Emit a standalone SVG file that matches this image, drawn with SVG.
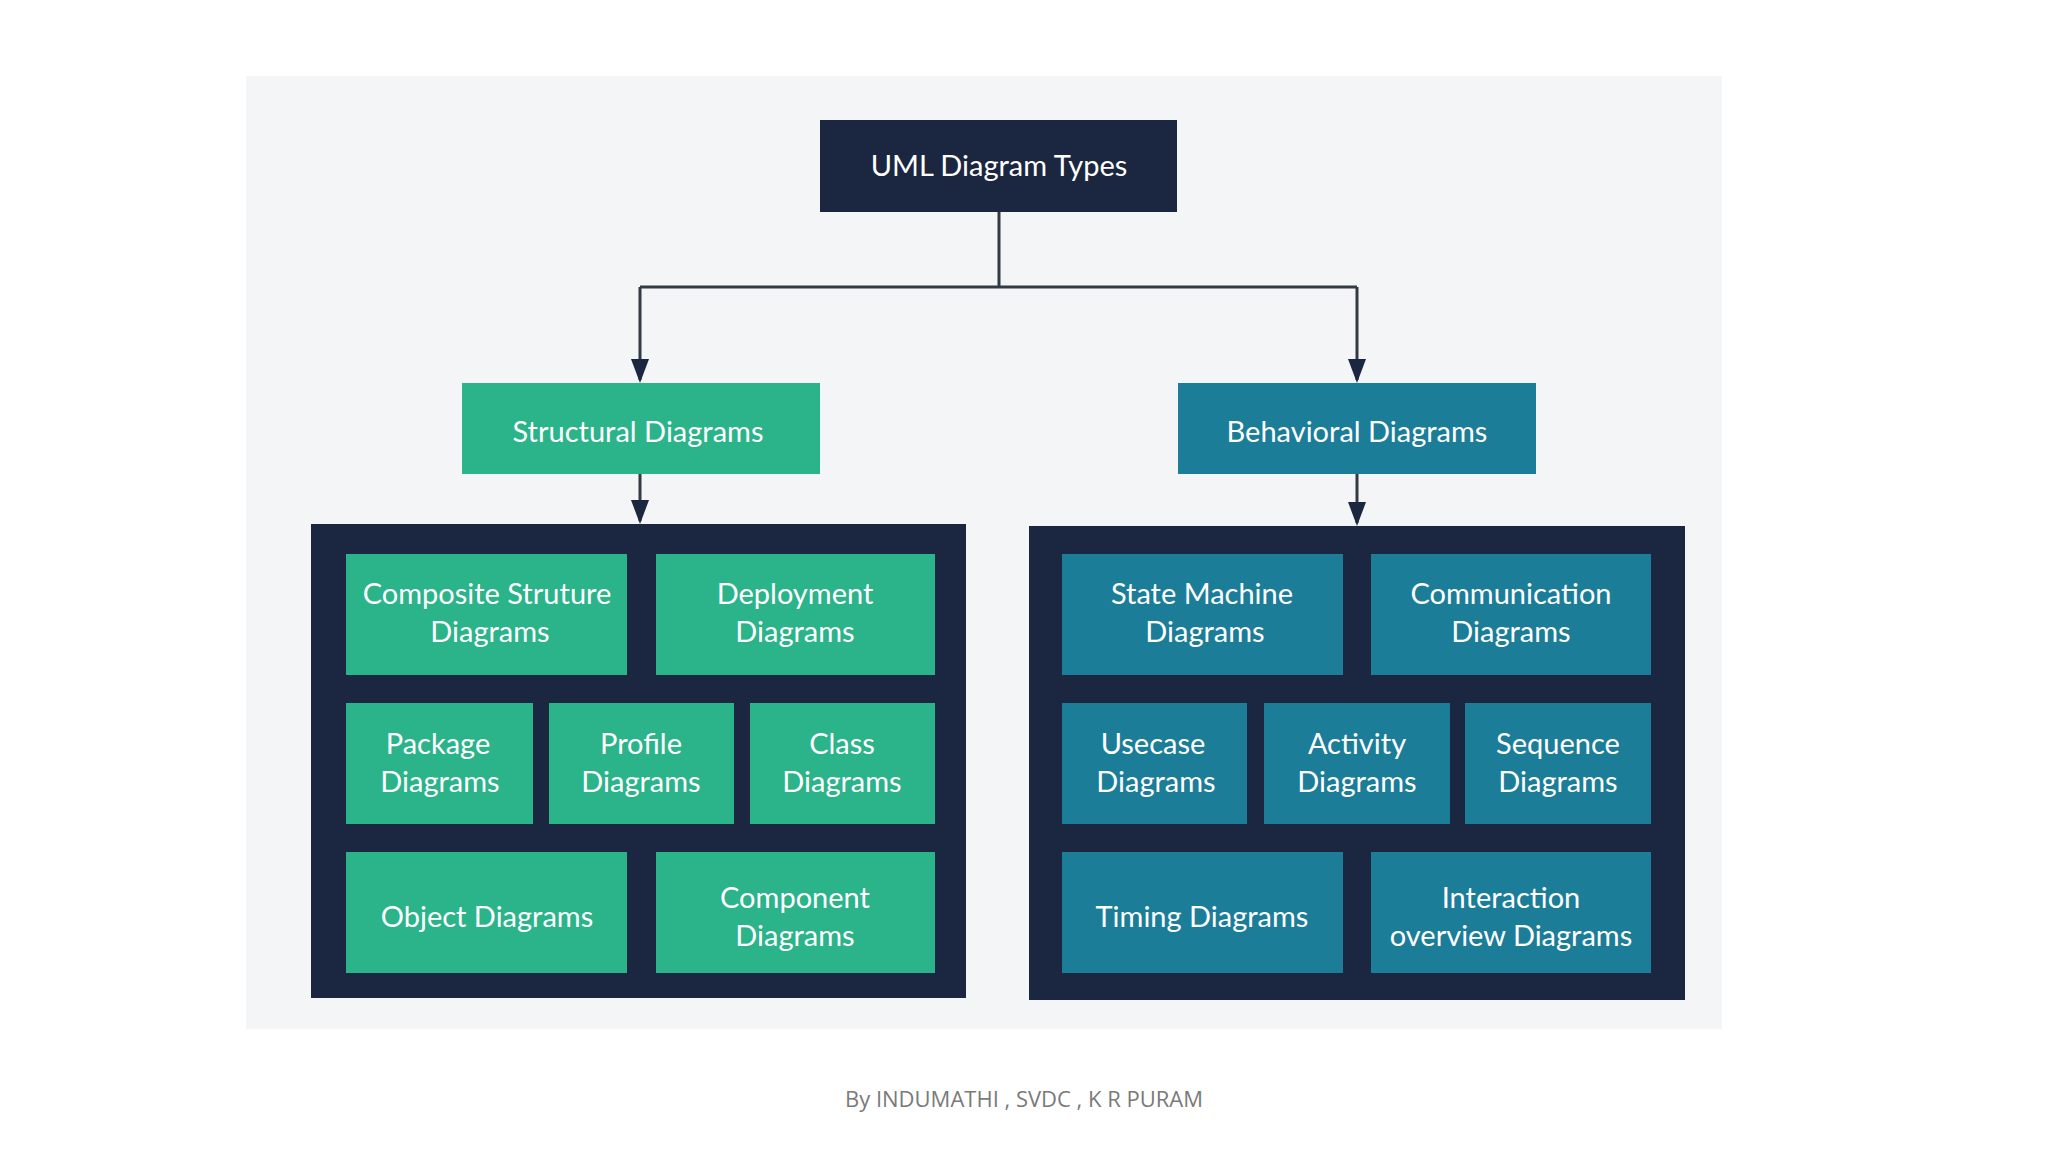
<svg xmlns="http://www.w3.org/2000/svg" width="2048" height="1152" viewBox="0 0 2048 1152">
<style>
text{font-family:Lato,"Open Sans",sans-serif;fill:#fff;text-anchor:middle;font-size:29px}
.g{fill:#2bb38a}.t{fill:#1b7d98}.d{fill:#1b2740}
.c{stroke:#333a44;stroke-width:3;fill:none}
</style>
<defs><marker id="a" markerWidth="8" markerHeight="6" refX="7" refY="3" orient="auto" markerUnits="strokeWidth"><path d="M0,0L8,3L0,6Z" fill="#1b2740"/></marker></defs>
<rect width="2048" height="1152" fill="#fff"/>
<rect x="246" y="76" width="1476" height="953" fill="#f3f5f7"/>
<g id="connectors">
<path class="c" d="M999,212V287M640,287H1357M640,287V380" marker-end="url(#a)"/>
<path class="c" d="M1357,287V380" marker-end="url(#a)"/>
<path class="c" d="M640,474V521" marker-end="url(#a)"/>
<path class="c" d="M1357,474V523" marker-end="url(#a)"/>
</g>
<g id="root"><rect class="d" x="820" y="120" width="357" height="92"/><text x="999" y="176">UML Diagram Types</text></g>
<g id="structural"><rect class="g" x="462" y="383" width="358" height="91"/><text x="638" y="442">Structural Diagrams</text></g>
<g id="behavioral"><rect class="t" x="1178" y="383" width="358" height="91"/><text x="1357" y="442">Behavioral Diagrams</text></g>
<g id="structPanel"><rect class="d" x="311" y="524" width="655" height="474"/></g>
<g id="behavPanel"><rect class="d" x="1029" y="526" width="656" height="474"/></g>
<g id="composite"><rect class="g" x="346" y="554" width="281" height="121"/><text x="487" y="604">Composite Struture</text><text x="490" y="642">Diagrams</text></g>
<g id="deployment"><rect class="g" x="656" y="554" width="279" height="121"/><text x="795" y="604">Deployment</text><text x="795" y="642">Diagrams</text></g>
<g id="package"><rect class="g" x="346" y="703" width="187" height="121"/><text x="438" y="754">Package</text><text x="440" y="792">Diagrams</text></g>
<g id="profile"><rect class="g" x="549" y="703" width="185" height="121"/><text x="641" y="754">Profile</text><text x="641" y="792">Diagrams</text></g>
<g id="class"><rect class="g" x="750" y="703" width="185" height="121"/><text x="842" y="754">Class</text><text x="842" y="792">Diagrams</text></g>
<g id="object"><rect class="g" x="346" y="852" width="281" height="121"/><text x="487" y="927">Object Diagrams</text></g>
<g id="component"><rect class="g" x="656" y="852" width="279" height="121"/><text x="795" y="908">Component</text><text x="795" y="946">Diagrams</text></g>
<g id="state"><rect class="t" x="1062" y="554" width="281" height="121"/><text x="1202" y="604">State Machine</text><text x="1205" y="642">Diagrams</text></g>
<g id="communication"><rect class="t" x="1371" y="554" width="280" height="121"/><text x="1511" y="604">Communication</text><text x="1511" y="642">Diagrams</text></g>
<g id="usecase"><rect class="t" x="1062" y="703" width="185" height="121"/><text x="1153" y="754">Usecase</text><text x="1156" y="792">Diagrams</text></g>
<g id="activity"><rect class="t" x="1264" y="703" width="186" height="121"/><text x="1357" y="754">Activity</text><text x="1357" y="792">Diagrams</text></g>
<g id="sequence"><rect class="t" x="1465" y="703" width="186" height="121"/><text x="1558" y="754">Sequence</text><text x="1558" y="792">Diagrams</text></g>
<g id="timing"><rect class="t" x="1062" y="852" width="281" height="121"/><text x="1202" y="927">Timing Diagrams</text></g>
<g id="interaction"><rect class="t" x="1371" y="852" width="280" height="121"/><text x="1511" y="908">Interaction</text><text x="1511" y="946">overview Diagrams</text></g>
<text x="1024" y="1107" style="fill:#7a7a7a;font-size:22px;font-family:'Open Sans',sans-serif">By INDUMATHI , SVDC , K R PURAM</text>
</svg>
